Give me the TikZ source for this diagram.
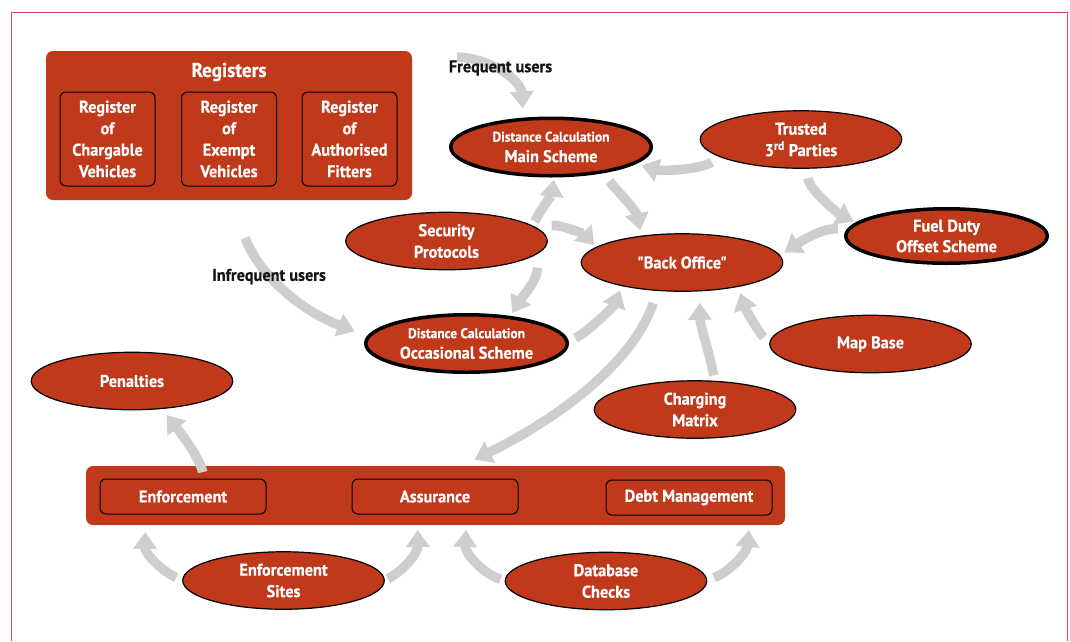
\documentclass[tikz,border=0pt]{standalone}
\usepackage{fontspec}
\setmainfont{PT Sans}[Ligatures=TeXOff, FakeStretch=0.96, BoldFeatures={FakeBold=0.5}]
\usetikzlibrary{shapes.geometric,arrows.meta}

\definecolor{brick}{RGB}{191,57,26}
\definecolor{flowgray}{RGB}{206,206,206}
\definecolor{framered}{RGB}{210,80,80}
\definecolor{inkblack}{RGB}{20,20,20}

\pgfdeclarelayer{bars}
\pgfdeclarelayer{flows}
\pgfsetlayers{bars,flows,main}

\newcommand\bodyfont{\bfseries\fontsize{17}{21.5}\selectfont}
\newcommand\pairfont{\bfseries\fontsize{17}{20.5}\selectfont}
\newcommand\smallline[1]{{\fontsize{14}{20.5}\selectfont #1}}

\begin{document}
\begin{tikzpicture}[x=1pt,y=-1pt,
  panel/.style={rectangle, fill=brick, rounded corners=7pt, inner sep=0pt, outer sep=0pt},
  regbox/.style={rectangle, draw=black, line width=1pt, rounded corners=6pt, fill=brick,
    text=white, font=\bodyfont, align=center, inner sep=0pt, outer sep=0pt},
  oval/.style={ellipse, draw=black, line width=1.2pt, fill=brick, text=white,
    font=\bodyfont, align=center, minimum width=201.5pt, minimum height=57.5pt,
    inner sep=0pt, outer sep=0pt},
  boldoval/.style={oval, line width=3.5pt, font=\pairfont},
  note/.style={text=inkblack, font=\bfseries\fontsize{17}{20}\selectfont, inner sep=0pt},
  flow/.style={draw=flowgray, line width=9.5pt, -{Triangle[length=17pt,width=23pt]}},
]
\path[use as bounding box] (0,0) rectangle (1070,641);

% page frame, open at the bottom
\draw[framered, line width=1.3pt] (11.7,641) -- (11.7,12.3) -- (1067.5,12.3) -- (1067.5,641);

% red panels with their inner boxes
\begin{pgfonlayer}{bars}
  \node[panel, minimum width=366pt, minimum height=149pt] (registers) at (229,125.5) {};
  \node[text=white, font=\bfseries\fontsize{20}{22}\selectfont, inner sep=0pt] (regtitle) at (229,72) {Registers};
  \node[regbox, minimum width=95pt, minimum height=94pt] (regcharge) at (107.5,139) {Register\\of\\Chargable\\Vehicles};
  \node[regbox, minimum width=95pt, minimum height=94pt] (regexempt) at (229,139) {Register\\of\\Exempt\\Vehicles};
  \node[regbox, minimum width=95pt, minimum height=94pt] (regfitters) at (349.5,139) {Register\\of\\Authorised\\Fitters};

  \node[panel, minimum width=699pt, minimum height=59pt] (opsbar) at (435.5,495.5) {};
  \node[regbox, minimum width=166pt, minimum height=35pt] (enf) at (183,496.5) {Enforcement};
  \node[regbox, minimum width=166pt, minimum height=35pt] (assur) at (435,496.5) {Assurance};
  \node[regbox, minimum width=166pt, minimum height=35pt] (debt) at (689,497.5) {Debt Management};
\end{pgfonlayer}

% ovals
\node[boldoval, minimum width=200.5pt, minimum height=57.5pt] (main) at (551,147)
  {\smallline{Distance Calculation}\\Main Scheme};
\node[oval] (trusted) at (801,139.5) {Trusted\\3\textsuperscript{rd} Parties};
\node[oval] (security) at (446.5,241) {Security\\Protocols};
\node[oval] (back) at (682,262.5) {"Back Office"};
\node[boldoval, minimum width=201.5pt, minimum height=54.5pt] (fuel) at (946.5,236) {Fuel Duty\\Offset Scheme};
\node[boldoval, minimum width=201.5pt, minimum height=57.5pt] (occ) at (466.5,343.5)
  {\smallline{Distance Calculation}\\Occasional Scheme};
\node[oval] (map) at (870.5,344) {Map Base};
\node[oval] (penalties) at (132,381) {Penalties};
\node[oval] (charging) at (695,409.5) {Charging\\Matrix};
\node[oval] (esites) at (283.5,580.5) {Enforcement\\Sites};
\node[oval] (db) at (606,581) {Database\\Checks};

% user labels and where their flows begin
\node[note] (freq) at (500.5,68) {Frequent users};
\node[note] (infreq) at (269,276.5) {Infrequent users};
\coordinate (freqsrc) at (457,57);
\coordinate (infreqsrc) at (245,238);

% grey flow arrows
\begin{pgfonlayer}{flows}
  \draw[flow, shorten >=11pt] (freqsrc) .. controls (490,58) and (521,80) .. (main.135);
  \draw[flow, shorten <=12pt, shorten >=6pt] (main.-26.5) .. controls (613,186) and (636,210) .. (back.147);
  \draw[flow, shorten <=10pt, shorten >=8pt] (trusted.192) .. controls (700,170) and (660,171) .. (main.-11);
  \draw[flow, shorten <=10pt, shorten >=4pt] (trusted.-78) .. controls (809,190) and (839,214) .. (fuel.172);
  \draw[flow, shorten <=11pt, shorten >=5.5pt] (fuel.176) .. controls (820,228) and (797,244) .. (back.4);
  \draw[flow, shorten <=5pt, shorten >=4pt] (security.10) .. controls (542,208) and (552,194) .. (main.-84);
  \draw[flow, shorten <=15pt, shorten >=3pt] (security.8) .. controls (560,224) and (584.5,234.5) .. (back.170);
  \draw[flow, shorten <=14pt, shorten >=5pt] (security.-8) .. controls (538,280) and (520.4,299.4) .. (occ.31);
  \draw[flow, shorten >=15pt] (infreqsrc) .. controls (262,280) and (305,312) .. (occ.176);
  \draw[flow, shorten <=9pt, shorten >=5pt] (occ.1) .. controls (588,332) and (614,306) .. (back.201);
  \draw[flow, shorten <=13.5pt, shorten >=44pt] (back.229) .. controls (630,370) and (545,425) .. (assur.north);
  \draw[flow, shorten <=6pt, shorten >=12pt] (charging.55) .. controls (710,355) and (700,325) .. (back.-58);
  \draw[flow, shorten <=9pt, shorten >=7pt] (map.180) .. controls (757,330) and (745,308) .. (back.-23);
  \draw[flow, shorten <=7pt, shorten >=8pt] (enf.40) .. controls (200,458) and (180,432) .. (penalties.-43);
  \draw[flow, shorten <=7pt, shorten >=18pt] (esites.180) .. controls (160,570) and (145,553) .. (enf.205);
  \draw[flow, shorten <=4pt, shorten >=16pt] (esites.0) .. controls (405,570) and (418,552) .. (assur.225);
  \draw[flow, shorten <=5pt, shorten >=16pt] (db.180) .. controls (480,572) and (465,552) .. (assur.-29.5);
  \draw[flow, shorten <=8pt, shorten >=15pt] (db.0) .. controls (732,570) and (747,552) .. (debt.-16.5);
\end{pgfonlayer}
\end{tikzpicture}
\end{document}
